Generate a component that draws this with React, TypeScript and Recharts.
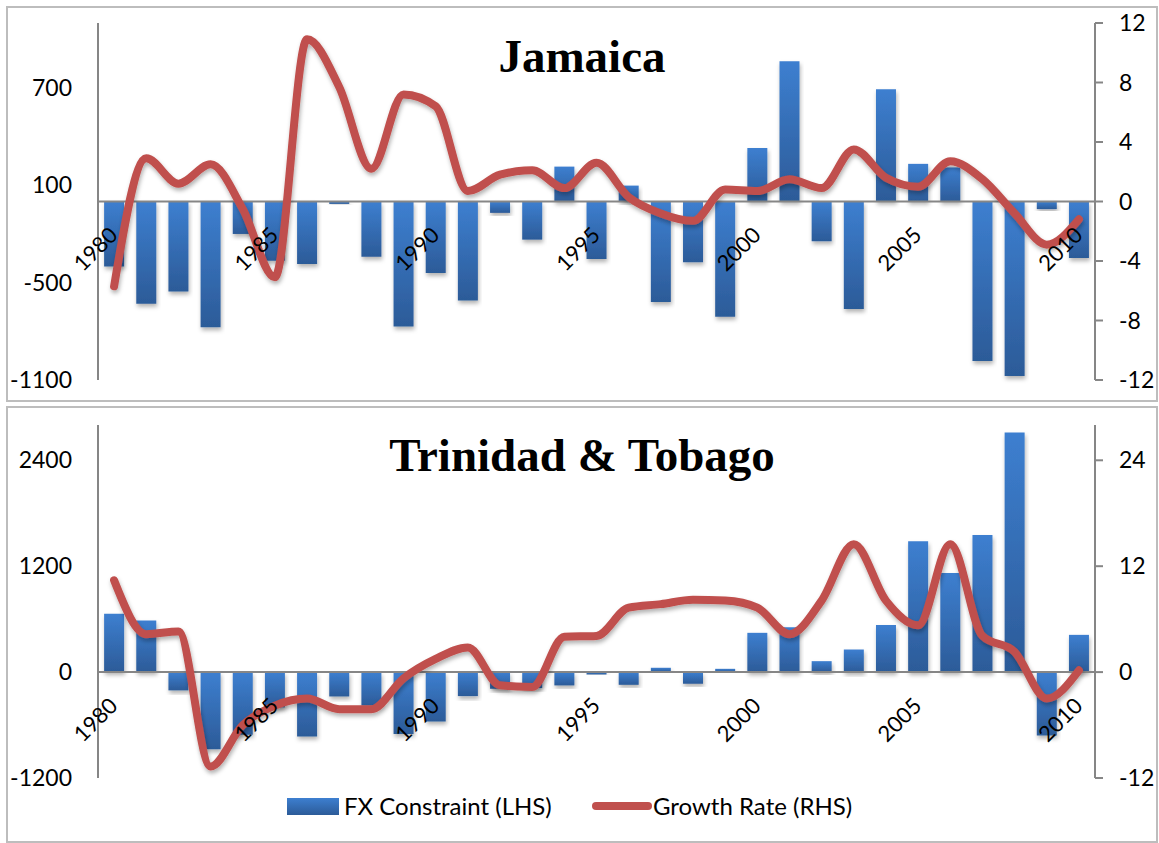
import React from "react";
import { ComposedChart, Bar, Line, XAxis, YAxis, ReferenceLine } from "recharts";

// categories
const years = [
  "1980", "1981", "1982", "1983", "1984", "1985", "1986", "1987", "1988", "1989",
  "1990", "1991", "1992", "1993", "1994", "1995", "1996", "1997", "1998", "1999",
  "2000", "2001", "2002", "2003", "2004", "2005", "2006", "2007", "2008", "2009",
  "2010",
];

// Jamaica
const jamaicaFx = [
  -400, -630, -555, -775, -200, -365, -385, -15, -340, -770,
  -440, -610, -70, -235, 215, -355, 98, -620, -375, -710,
  330, 865, -245, -662, 692, 232, 210, -983, -1075, -47,
  -348,
];
const jamaicaGrowth = [
  -5.7, 2.9, 1.2, 2.5, -0.5, -5.1, 10.9, 7.7, 2.2, 7.2,
  6.4, 0.7, 1.8, 2.1, 0.9, 2.6, 0.3, -0.8, -1.3, 0.8,
  0.7, 1.5, 0.9, 3.5, 1.6, 1.0, 2.7, 1.5, -0.8, -2.9,
  -1.2,
];

// Trinidad & Tobago
const trinidadFx = [
  660, 585, -207, -875, -710, -400, -730, -276, -380, -700,
  -560, -272, -189, -181, -151, -27, -144, 49, -132, 37,
  445, 509, 124, 256, 535, 1482, 1123, 1553, 2715, -717,
  422,
];
const trinidadGrowth = [
  10.4, 4.3, 4.6, -10.7, -6.0, -3.8, -3.0, -4.2, -4.2, -0.7,
  1.5, 2.8, -1.5, -1.7, 4.0, 4.1, 7.3, 7.7, 8.2, 8.1,
  7.3, 4.3, 8.1, 14.5, 8.1, 5.3, 14.5, 4.1, 2.3, -3.0,
  0.2,
];

const jamaicaLeftTicks = [-1100, -500, 100, 700];
const jamaicaRightTicks = [-12, -8, -4, 0, 4, 8, 12];
const trinidadLeftTicks = [-1200, 0, 1200, 2400];
const trinidadRightTicks = [-12, 0, 12, 24];

const GREY = "#868686";
const BAR_LIGHT = "#3d7fd0";
const BAR_DARK = "#2c5b98";
const LINE_RED = "#c0504d";
const SANS = "Lato, 'Open Sans', sans-serif";
const CHART_W = 1148;

type PanelProps = {
  id: string;
  title: string;
  fx: number[];
  growth: number[];
  leftDomain: [number, number];
  leftTicks: number[];
  rightDomain: [number, number];
  rightTicks: number[];
  top: number;
  height: number;
  marginTop: number;
  marginBottom: number;
  titleTop: number;
};

const Panel = (p: PanelProps) => {
  const data = years.map((y, i) => ({ year: y, fx: p.fx[i], growth: p.growth[i] }));
  const innerH = p.height - 4;
  // x axis keeps 1px of height, so plot area ends 1px above the bottom margin
  const plotH = innerH - p.marginTop - p.marginBottom - 1;
  const zeroY =
    p.marginTop + (plotH * p.leftDomain[1]) / (p.leftDomain[1] - p.leftDomain[0]);

  // year labels sit under the zero line, not at the plot bottom
  const yearTick = (props: any) => {
    const tx = props.x + 5;
    const ty = zeroY + 35;
    return (
      <text
        x={tx}
        y={ty}
        textAnchor="end"
        transform={`rotate(-45 ${tx} ${ty})`}
        fontSize={22}
        fontFamily={SANS}
        fill="#000"
      >
        {props.payload.value}
      </text>
    );
  };

  return (
    <>
      <div
        style={{
          position: "absolute",
          left: 6,
          top: p.top,
          width: 1152,
          height: p.height,
          boxSizing: "border-box",
          border: "2px solid #bdbdbd",
          background: "#fff",
        }}
      >
        <ComposedChart
          width={CHART_W}
          height={innerH}
          data={data}
          margin={{ top: p.marginTop, right: 0, bottom: p.marginBottom, left: 0 }}
          barCategoryGap="19%"
        >
          <defs>
            <linearGradient id={`grad-${p.id}`} x1="0" y1="0" x2="0" y2="1">
              <stop offset="0%" stopColor={BAR_LIGHT} />
              <stop offset="100%" stopColor={BAR_DARK} />
            </linearGradient>
            <filter id={`shadow-${p.id}`} x="-20%" y="-20%" width="140%" height="140%">
              <feDropShadow dx="1" dy="3" stdDeviation="2" floodColor="#000" floodOpacity="0.3" />
            </filter>
          </defs>
          <XAxis
            dataKey="year"
            height={1}
            axisLine={false}
            tickLine={false}
            interval={4}
            tick={yearTick}
          />
          <YAxis
            yAxisId="left"
            domain={p.leftDomain}
            ticks={p.leftTicks}
            interval={0}
            width={90}
            axisLine={{ stroke: GREY, strokeWidth: 2 }}
            tickLine={false}
            tickSize={6}
            tickMargin={20}
            tick={{ fontSize: 23, fill: "#000", fontFamily: SANS }}
          />
          <YAxis
            yAxisId="right"
            orientation="right"
            domain={p.rightDomain}
            ticks={p.rightTicks}
            interval={0}
            width={61}
            axisLine={{ stroke: GREY, strokeWidth: 2 }}
            tickLine={{ stroke: GREY, strokeWidth: 2 }}
            tickSize={8}
            tickMargin={16}
            tick={{ fontSize: 23, fill: "#000", fontFamily: SANS }}
          />
          <ReferenceLine yAxisId="left" y={0} stroke={GREY} strokeWidth={2} />
          <Bar
            yAxisId="left"
            dataKey="fx"
            fill={`url(#grad-${p.id})`}
            filter={`url(#shadow-${p.id})`}
            isAnimationActive={false}
          />
          <Line
            yAxisId="right"
            type="monotone"
            dataKey="growth"
            stroke={LINE_RED}
            strokeWidth={8}
            strokeLinecap="round"
            strokeLinejoin="round"
            dot={false}
            activeDot={false}
            filter={`url(#shadow-${p.id})`}
            isAnimationActive={false}
          />
        </ComposedChart>
      </div>
      <div
        style={{
          position: "absolute",
          left: 0,
          top: p.titleTop,
          width: 1164,
          textAlign: "center",
          fontFamily: "'Liberation Serif', 'Times New Roman', serif",
          fontWeight: "bold",
          fontSize: 47,
          lineHeight: "47px",
          color: "#000",
        }}
      >
        {p.title}
      </div>
    </>
  );
};

const legendText: React.CSSProperties = {
  position: "absolute",
  top: 792,
  fontFamily: SANS,
  fontSize: 24,
  lineHeight: "28px",
  color: "#000",
  whiteSpace: "nowrap",
};

const App: React.FC = () => {
  return (
    <div style={{ position: "absolute", left: 0, top: 0, width: 1159, height: 843, background: "#fff", overflow: "hidden" }}>
      <Panel
        id="jam"
        title="Jamaica"
        fx={jamaicaFx}
        growth={jamaicaGrowth}
        leftDomain={[-1100, 1100]}
        leftTicks={jamaicaLeftTicks}
        rightDomain={[-12, 12]}
        rightTicks={jamaicaRightTicks}
        top={6}
        height={396}
        marginTop={15}
        marginBottom={19}
        titleTop={33}
      />
      <Panel
        id="tt"
        title="Trinidad & Tobago"
        fx={trinidadFx}
        growth={trinidadGrowth}
        leftDomain={[-1200, 2800]}
        leftTicks={trinidadLeftTicks}
        rightDomain={[-12, 28]}
        rightTicks={trinidadRightTicks}
        top={406}
        height={437}
        marginTop={17}
        marginBottom={62}
        titleTop={432}
      />
      {/* legend */}
      <div
        style={{
          position: "absolute",
          left: 287,
          top: 798,
          width: 52,
          height: 17,
          background: `linear-gradient(${BAR_LIGHT}, ${BAR_DARK})`,
        }}
      />
      <div style={{ ...legendText, left: 344 }}>FX Constraint (LHS)</div>
      <div
        style={{
          position: "absolute",
          left: 592,
          top: 802,
          width: 60,
          height: 8,
          borderRadius: 4,
          background: LINE_RED,
        }}
      />
      <div style={{ ...legendText, left: 653 }}>Growth Rate (RHS)</div>
    </div>
  );
};

export default App;
